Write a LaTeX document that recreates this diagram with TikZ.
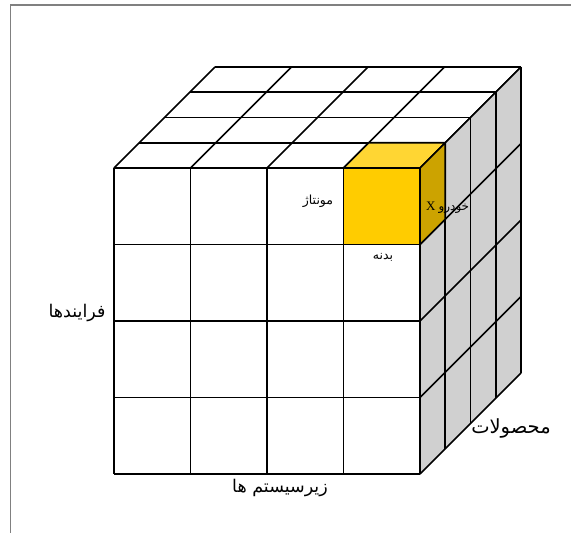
\documentclass[tikz,border=0pt]{standalone}
\usepackage{fontspec}
\setmainfont{Liberation Serif}
\newfontfamily\arabicfont[Script=Arabic]{DejaVu Sans}
\TeXXeTstate=1
\definecolor{sidegray}{RGB}{208,208,208}
\definecolor{ygold}{RGB}{255,204,0}
\definecolor{ytop}{RGB}{255,214,51}
\definecolor{yside}{RGB}{204,163,0}
\definecolor{framegray}{RGB}{128,128,128}
\begin{document}
\begin{tikzpicture}[x=1pt,y=-1pt,
  gridline/.style={line width=1.7pt, black, line join=round},
  smalllab/.style={inner sep=0pt, font=\fontsize{12.5}{15}\selectfont},
  biglab/.style={inner sep=0pt, font=\fontsize{17.5}{21}\selectfont}]
\useasboundingbox (0,0) rectangle (571,533);
% frame
\draw[framegray, line width=1.8pt] (10.5,533) -- (10.5,5) -- (571,5);
% top face
\fill[white] (114,168) -- (420,168) -- (521,67) -- (215,67) -- cycle;
\foreach \i in {0,...,4}{
  \draw[gridline] ({114+76.5*\i},168) -- ({215+76.5*\i},67);
  \draw[gridline] ({114+25.25*\i},{168-25.25*\i}) -- ({420+25.25*\i},{168-25.25*\i});
}
% right face
\fill[sidegray] (420,168) -- (521,67) -- (521,373) -- (420,474) -- cycle;
\foreach \i in {0,...,4}{
  \draw[gridline] ({420+25.25*\i},{168-25.25*\i}) -- ({420+25.25*\i},{474-25.25*\i});
  \draw[gridline] (420,{168+76.5*\i}) -- (521,{67+76.5*\i});
}
% front face
\fill[white] (114,168) rectangle (420,474);
\foreach \i in {0,...,4}{
  \draw[gridline] ({114+76.5*\i},168) -- ({114+76.5*\i},474);
  \draw[gridline] (114,{168+76.5*\i}) -- (420,{168+76.5*\i});
}
% highlighted cube
\filldraw[gridline, fill=ygold] (343.5,168) rectangle (420,244.5);
\filldraw[gridline, fill=ytop] (343.5,168) -- (420,168) -- (445.25,142.75) -- (368.75,142.75) -- cycle;
\filldraw[gridline, fill=yside] (420,168) -- (445.25,142.75) -- (445.25,219.25) -- (420,244.5) -- cycle;
% labels
\node[smalllab] (montaj) at (318,201) {\arabicfont\beginR مونتاژ\endR};
\node[smalllab] (badane) at (383,257) {\arabicfont\beginR بدنه\endR};
\node[inner sep=0pt, anchor=west] (khodro) at (426,208) {\fontsize{13}{15}\selectfont X\hspace{3pt}{\arabicfont\fontsize{12}{14}\selectfont\beginR خودرو\endR}};
\node[biglab] (farayand) at (77,313) {\arabicfont\beginR فرایندها\endR};
\node[biglab, font=\fontsize{19.5}{23}\selectfont] (mahsul) at (511,428) {\arabicfont\beginR محصولات\endR};
\node[biglab] (zir) at (280,488) {\arabicfont\beginR زیرسیستم ها\endR};
\end{tikzpicture}
\end{document}
